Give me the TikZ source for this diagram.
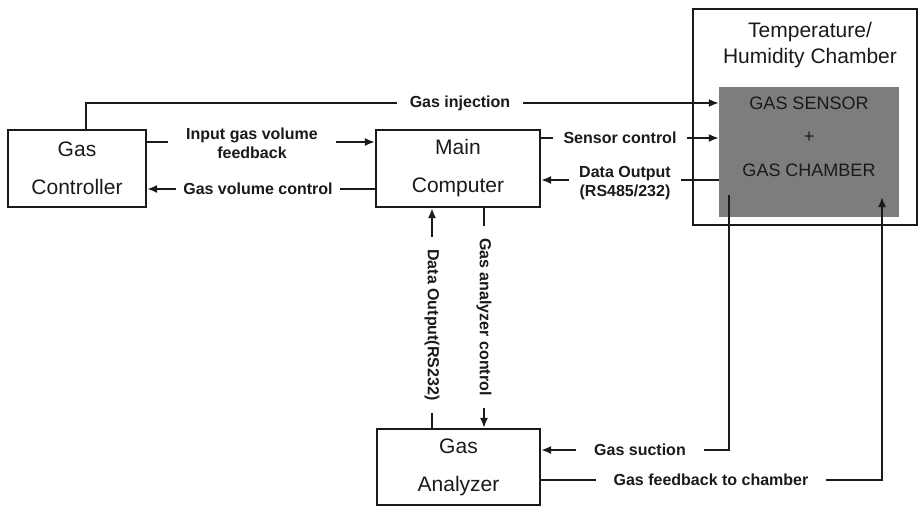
\documentclass[tikz,border=0pt]{standalone}
\usepackage{fontspec}
\setmainfont{Liberation Sans}
\usetikzlibrary{arrows.meta}
\definecolor{ink}{RGB}{26,26,26}
\definecolor{boxgray}{RGB}{125,125,125}
\begin{document}
\begin{tikzpicture}[x=1pt,y=-1pt,
  box/.style={draw=ink, line width=2.2pt, fill=white, align=center, inner sep=0pt,
    font=\fontsize{21}{38}\selectfont, text=ink},
  conn/.style={draw=ink, line width=1.8pt},
  arr/.style={conn, -{Latex[length=10pt,width=8pt]}},
  lbl/.style={fill=white, font=\bfseries\fontsize{16}{18.5}\selectfont, text=ink,
    align=center, inner ysep=1pt}
]
\useasboundingbox (0,0) rectangle (921,506);
% boxes
\node[box, minimum width=138pt, minimum height=77pt] (gc) at (77,168.5) {Gas\\Controller};
\node[box, minimum width=164pt, minimum height=77pt] (mc) at (458,168.5) {Main\\Computer};
\node[box, minimum width=163pt, minimum height=76pt] (ga) at (458.5,467) {Gas\\Analyzer};
\node[fill=boxgray, minimum width=180pt, minimum height=130pt, inner sep=0pt] (gs) at (809,152) {};
\node[align=center, text=ink, font=\fontsize{18}{33.5}\selectfont] (gst) at (809,136.5) {GAS SENSOR\\+\\GAS CHAMBER};
\node[align=center, text=ink, font=\fontsize{21}{26}\selectfont] (title) at (810,45) {Temperature/\\Humidity Chamber};

% connectors
\draw[arr] (gc.north -| 86,0) -- (86,103) -- (gs.west |- 0,103);
\node[lbl, inner xsep=13pt] (l1) at (460,103) {Gas injection};

\draw[arr] (gc.east |- 0,142) -- (mc.west |- 0,142);
\node[lbl, inner xsep=18pt] (l2) at (252,143.5) {Input gas volume\\feedback};

\draw[arr] (mc.west |- 0,189) -- (gc.east |- 0,189);
\node[lbl, inner xsep=7pt] (l3) at (258,189) {Gas volume control};

\draw[arr] (mc.east |- 0,138) -- (gs.west |- 0,138);
\node[lbl, inner xsep=11pt] (l4) at (620,138) {Sensor control};

\draw[arr] (gs.west |- 0,180) -- (mc.east |- 0,180);
\node[lbl, inner xsep=10pt] (l5) at (625,183) {Data Output\\(RS485/232)};

\coordinate (suc) at (729,195);
\draw[arr] (suc) -- (729,450) -- (ga.east |- 0,450);
\node[lbl, inner xsep=18pt] (l6) at (640,450) {Gas suction};

\coordinate (fbk) at (882,197);
\draw[arr] (ga.east |- 0,480) -- (882,480) -- (fbk);
\node[lbl, inner xsep=18pt] (l7) at (711,480) {Gas feedback to chamber};

\draw[arr] (ga.north -| 432,0) -- (mc.south -| 432,0);
\node[lbl, rotate=-90, inner xsep=12pt] (l8) at (432,325) {Data Output(RS232)};

\draw[arr] (mc.south -| 484,0) -- (ga.north -| 484,0);
\node[lbl, rotate=-90, inner xsep=12pt] (l9) at (484,317) {Gas analyzer control};

% chamber outline on top
\node[draw=ink, line width=2.2pt, minimum width=224pt, minimum height=216pt, inner sep=0pt] (ch) at (805,117) {};
\end{tikzpicture}
\end{document}
